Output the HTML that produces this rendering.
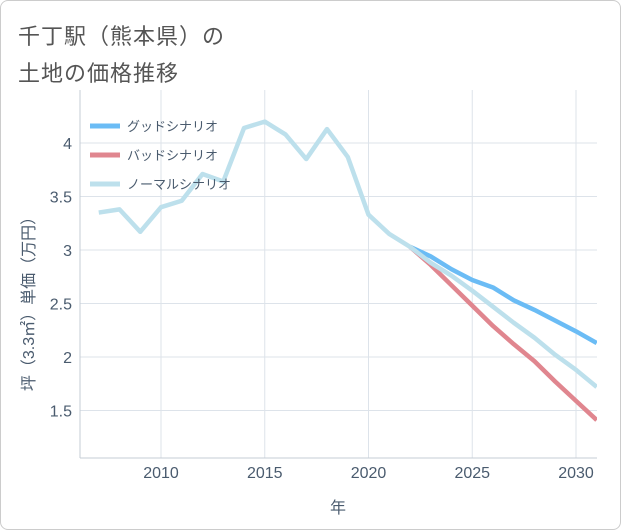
<!DOCTYPE html>
<html><head><meta charset="utf-8"><style>
body{margin:0;background:#fff;font-family:"Liberation Sans","Noto Sans CJK JP",sans-serif;}
#wrap{position:relative;width:619px;height:528px;border:1px solid #ccc;border-radius:8px;overflow:hidden;background:#fff}
.title{position:absolute;left:17px;font-size:22px;color:#555;letter-spacing:1px}
</style></head><body>
<div id="wrap">
<div class="title" style="top:18px">千丁駅（熊本県）の</div>
<div class="title" style="top:55px">土地の価格推移</div>
<svg id="chart" width="621" height="530" style="position:absolute;left:-1px;top:-1px"></svg>
</div>
<script>
const years=[2007,2008,2009,2010,2011,2012,2013,2014,2015,2016,2017,2018,2019,2020,2021,2022,2023,2024,2025,2026,2027,2028,2029,2030,2031];
const normalVals=[3.35,3.38,3.17,3.40,3.46,3.71,3.64,4.14,4.20,4.08,3.85,4.13,3.87,3.33,3.15,3.03,2.88,2.76,2.62,2.47,2.32,2.18,2.02,1.88,1.72];
const goodYears=[2022,2023,2024,2025,2026,2027,2028,2029,2030,2031];
const goodVals=[3.03,2.94,2.82,2.72,2.65,2.53,2.44,2.34,2.24,2.13];
const badVals=[3.03,2.86,2.67,2.48,2.29,2.12,1.96,1.77,1.59,1.41];
const xTicks=[2010,2015,2020,2025,2030];
const yTicks=[1.5,2,2.5,3,3.5,4];
const yTickLabels=["1.5","2","2.5","3","3.5","4"];
const legendLabels=["グッドシナリオ","バッドシナリオ","ノーマルシナリオ"];
const colors=["#6bbcf5","#e0868f","#bde0ec"];

const NS="http://www.w3.org/2000/svg";
const svg=document.getElementById('chart');
const L=80,R=597,T=90,B=458;
function x(v){return 161+(v-2010)*(576-161)/20;}
function y(v){return 143+(4-v)*(357-143)/2;}
function mk(t,a,p){const e=document.createElementNS(NS,t);for(const k in a)e.setAttribute(k,a[k]);(p||svg).appendChild(e);return e;}

const grid=mk('g',{});


xTicks.forEach(v=>{const l=mk('line',{x1:x(v),x2:x(v),y1:T,y2:B,stroke:'#dde3ea','stroke-width':1},grid);


const t=mk('text',{x:x(v),y:478,'text-anchor':'middle','font-size':16,fill:'#4a5b6e'});t.textContent=v;

});
yTicks.forEach((v,i)=>{const l=mk('line',{x1:L,x2:R,y1:y(v),y2:y(v),stroke:'#dde3ea','stroke-width':1},grid);


const t=mk('text',{x:72,y:y(v)+6,'text-anchor':'end','font-size':16,fill:'#4a5b6e'});t.textContent=yTickLabels[i];

});
const ax=mk('line',{x1:L,x2:L,y1:T,y2:B,stroke:'#c5ccd4'});


const bx=mk('line',{x1:L,x2:R,y1:B,y2:B,stroke:'#c5ccd4'});



const clip=mk('clipPath',{id:'pc'});mk('rect',{x:L,y:T,width:R-L,height:B-T},clip);
function line(xs,vs,c,name){const p=mk('polyline',{points:xs.map((v,i)=>x(v)+','+y(vs[i])).join(' '),fill:'none',stroke:c,'stroke-width':4.5,'stroke-linejoin':'round','clip-path':'url(#pc)'});

}
line(goodYears,goodVals,colors[0],'good-scenario-line');
line(goodYears,badVals,colors[1],'bad-scenario-line');
line(years,normalVals,colors[2],'normal-scenario-line');

legendLabels.forEach((s,i)=>{const g=mk('g',{});


const yy=126+i*29;mk('line',{x1:90,x2:120,y1:yy,y2:yy,stroke:colors[i],'stroke-width':5},g);
const t=mk('text',{x:127,y:yy+5,'font-size':13,fill:'#4a5b6e'},g);t.textContent=s;});

const xt=mk('text',{x:338,y:513,'text-anchor':'middle','font-size':16,fill:'#4a5b6e'});xt.textContent='年';


const yt=mk('text',{x:0,y:0,'text-anchor':'middle','font-size':16,fill:'#4a5b6e',transform:'translate(34,300) rotate(-90)'});yt.textContent='坪（3.3㎡）単価（万円）';


</script>
</body></html>
